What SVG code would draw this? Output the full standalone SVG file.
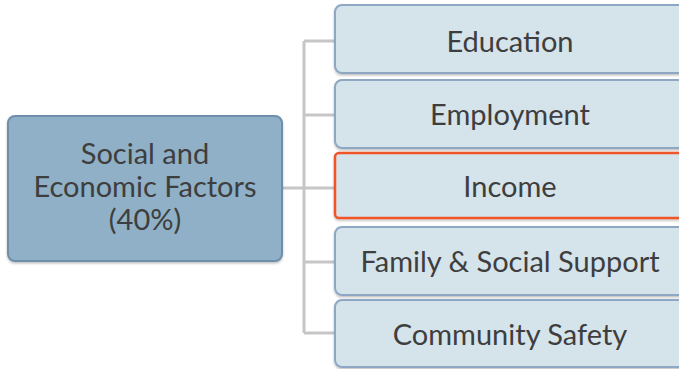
<svg xmlns="http://www.w3.org/2000/svg" width="679" height="369" viewBox="0 0 679 369">
<defs>
<filter id="sh" x="-5%" y="-5%" width="110%" height="120%">
<feDropShadow dx="0" dy="1.5" stdDeviation="1.2" flood-color="#000" flood-opacity="0.25"/>
</filter>
</defs>
<style>
.conn{fill:none;stroke:#c6c6c6;stroke-width:3}
.child{fill:#d5e3eb;stroke:#8ea8c3;stroke-width:2}
.sel{fill:#d5e3eb;stroke:#f0552a;stroke-width:2.5}
.root{fill:#8fb0c6;stroke:#6e8fac;stroke-width:2}
text{font-family:Lato,"Open Sans","Liberation Sans",sans-serif;font-size:29px;fill:#3e3e3e;text-anchor:middle}
</style>
<rect width="679" height="369" fill="#ffffff"/>
<g id="connectors">
<path class="conn" d="M282 188H304M304 41V333M304 41H334M304 115H334M304 188H334M304 262H334M304 333H334"/>
</g>
<g id="root">
<rect class="root" x="8" y="116" width="274" height="145" rx="7" filter="url(#sh)"/>
<text x="145" y="164">Social and</text>
<text x="145" y="197">Economic Factors</text>
<text x="145" y="230">(40%)</text>
</g>
<g id="education">
<rect class="child" x="335" y="5" width="352" height="68" rx="7" filter="url(#sh)"/>
<text x="510" y="52">Education</text>
</g>
<g id="employment">
<rect class="child" x="335" y="80" width="352" height="68" rx="7" filter="url(#sh)"/>
<text x="510" y="125">Employment</text>
</g>
<g id="income">
<rect class="sel" x="335" y="153" width="352" height="65" rx="4" filter="url(#sh)"/>
<text x="510" y="197">Income</text>
</g>
<g id="family">
<rect class="child" x="335" y="227" width="352" height="68" rx="7" filter="url(#sh)"/>
<text x="510" y="272">Family &amp; Social Support</text>
</g>
<g id="community">
<rect class="child" x="335" y="300" width="352" height="67" rx="7" filter="url(#sh)"/>
<text x="510" y="345">Community Safety</text>
</g>
</svg>
